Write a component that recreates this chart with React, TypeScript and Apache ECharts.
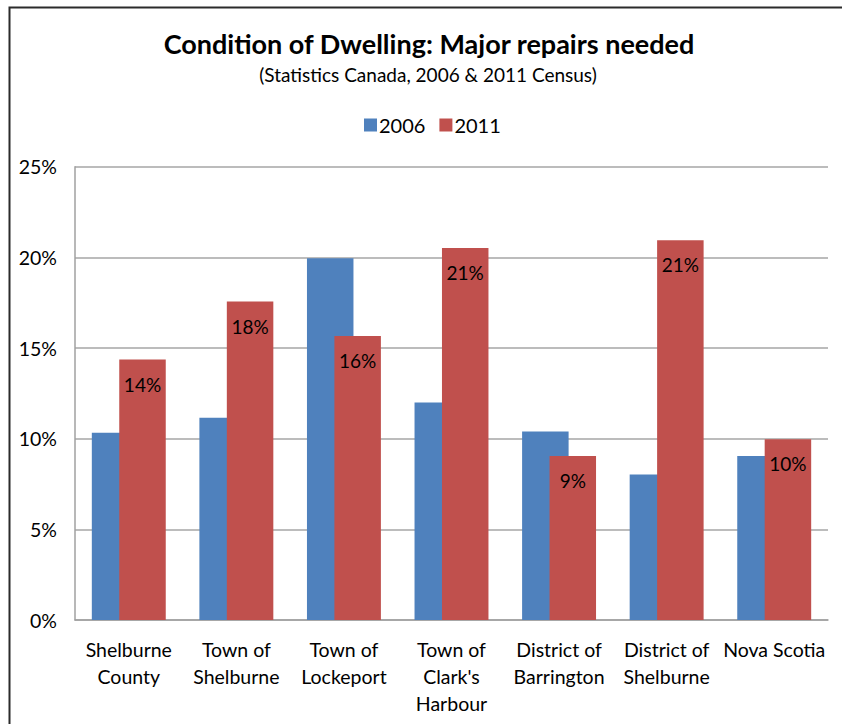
import React, { useEffect, useRef } from "react";
import * as echarts from "echarts";

const categories = [
  "Shelburne\nCounty",
  "Town of\nShelburne",
  "Town of\nLockeport",
  "Town of\nClark's\nHarbour",
  "District of\nBarrington",
  "District of\nShelburne",
  "Nova Scotia",
];
const values2006 = [10.33, 11.16, 19.95, 12.0, 10.39, 8.03, 9.05];
const values2011 = [14.36, 17.56, 15.66, 20.52, 9.05, 20.94, 9.97];
const yTicks = [0, 5, 10, 15, 20, 25];

const FONT = "Lato, 'Open Sans', sans-serif";

export default function App() {
  const ref = useRef<HTMLDivElement>(null);
  useEffect(() => {
    document.body.style.margin = "0";
    const chart = echarts.init(ref.current!, null, { renderer: "svg" });
    chart.setOption({
      animation: false,
      backgroundColor: "#fff",
      textStyle: { fontFamily: FONT },
      graphic: [
        {
          type: "rect",
          shape: { x: 9.5, y: 7.5, width: 900, height: 800 },
          style: { fill: "none", stroke: "#2b2b2b", lineWidth: 2 },
          silent: true,
        },
        {
          type: "text",
          x: 429,
          y: 43,
          style: {
            text: "Condition of Dwelling: Major repairs needed",
            textAlign: "center",
            textVerticalAlign: "middle",
            font: `bold 27px ${FONT}`,
            fill: "#000",
          },
        },
        {
          type: "text",
          x: 428,
          y: 74,
          style: {
            text: "(Statistics Canada, 2006 & 2011 Census)",
            textAlign: "center",
            textVerticalAlign: "middle",
            font: `19px ${FONT}`,
            fill: "#000",
          },
        },
      ],
      legend: {
        data: ["2006", "2011"],
        left: 359,
        top: 110,
        itemWidth: 13,
        itemHeight: 13,
        itemGap: 14,
        icon: "rect",
        textStyle: { fontSize: 20, color: "#000", fontFamily: FONT, padding: [0, 0, 0, -3] },
      },
      grid: { left: 75, right: 14, top: 166.7, bottom: 104, containLabel: false },
      xAxis: {
        type: "category",
        data: categories,
        axisLine: { show: true, lineStyle: { color: "#a0a0a0", width: 1.5 } },
        axisTick: { show: false },
        axisLabel: {
          interval: 0,
          fontSize: 19.5,
          lineHeight: 27,
          color: "#000",
          margin: 16,
          verticalAlign: "top",
          fontFamily: FONT,
        },
      },
      yAxis: {
        type: "value",
        min: 0,
        max: 25,
        interval: 5,
        axisLine: { show: true, lineStyle: { color: "#a0a0a0", width: 1.5 } },
        axisTick: { show: false },
        splitLine: { show: true, lineStyle: { color: "#a6a6a6", width: 1.5 } },
        axisLabel: {
          fontSize: 19.5,
          color: "#000",
          margin: 18,
          fontFamily: FONT,
          formatter: (v: number) => (yTicks.includes(v) ? `${v}%` : ""),
        },
      },
      series: [
        {
          name: "2006",
          type: "bar",
          data: values2006,
          barWidth: 46.5,
          barGap: "-41%",
          itemStyle: { color: "#4F81BD" },
          z: 2,
        },
        {
          name: "2011",
          type: "bar",
          data: values2011,
          barWidth: 46.5,
          itemStyle: { color: "#C0504D" },
          z: 3,
          label: {
            show: true,
            position: "insideTop",
            distance: 15,
            fontSize: 19,
            color: "#000",
            fontFamily: FONT,
            formatter: (p: any) => `${Math.round(p.value)}%`,
          },
        },
      ],
    });
    return () => chart.dispose();
  }, []);
  return <div ref={ref} style={{ width: 842, height: 724 }} />;
}
